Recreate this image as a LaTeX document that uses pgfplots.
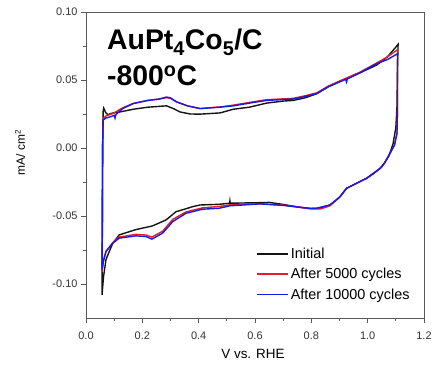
\documentclass[border=0pt]{standalone}
\usepackage{fontspec}
\setmainfont{Liberation Sans}
\usepackage{pgfplots}
\pgfplotsset{compat=1.18}
\definecolor{cvblack}{RGB}{20,20,20}
\definecolor{cvred}{RGB}{225,30,40}
\definecolor{cvblue}{RGB}{25,25,230}
\definecolor{framegray}{RGB}{90,90,90}
\begin{document}
\begin{tikzpicture}
\begin{axis}[
  scale only axis,
  width=338bp, height=306bp,
  xmin=0, xmax=1.2, ymin=-0.125, ymax=0.10,
  xtick={0,0.2,...,1.21}, ytick={-0.10,-0.05,0,0.05,0.10},
  minor x tick num=1, minor y tick num=1,
  xtick pos=left, ytick pos=left,
  tick align=outside,
  major tick length=5bp, minor tick length=3bp,
  axis line style={framegray, line width=0.9pt},
  every tick/.style={framegray, line width=0.8pt},
  /pgf/number format/assume math mode=true,
  xticklabel style={yshift=-5bp, /pgf/number format/.cd, fixed, fixed zerofill, precision=1},
  yticklabel style={/pgf/number format/.cd, fixed, fixed zerofill, precision=2},
  tick label style={font=\fontsize{11}{13}\selectfont, text=black!80},
  scaled y ticks=false,
  xlabel={V vs. RHE},
  ylabel={mA/ cm\textsuperscript{2}},
  xlabel style={at={(axis description cs:0.494,-0.118)}, anchor=center, font=\fontsize{13.5}{15}\selectfont},
  ylabel style={at={(axis description cs:-0.195,0.54)}, anchor=center, font=\fontsize{12}{14}\selectfont},
  legend style={draw=none, fill=none, at={(rel axis cs:0.5,0.24)}, anchor=north west,
    font=\fontsize{14.5}{16}\selectfont, row sep=4.5bp, inner sep=1bp},
  legend cell align=left,
  legend image code/.code={\draw[#1] (0bp,0bp) -- (31bp,0bp);},
]
\addlegendimage{cvblack, line width=1.6pt}
\addlegendentry{Initial}
\addlegendimage{cvred, line width=1.6pt}
\addlegendentry{After 5000 cycles}
\addlegendimage{cvblue, line width=1.6pt}
\addlegendentry{After 10000 cycles}
% Initial
\addplot[cvblack, line width=1.4pt, forget plot] coordinates {
(0.057,-0.108) (0.058,-0.06) (0.059,0.0) (0.060,0.018) (0.061,0.027) (0.063,0.0293)
(0.070,0.026) (0.078,0.0245) (0.09,0.0255) (0.12,0.0265) (0.168,0.0285) (0.22,0.030)
(0.286,0.031) (0.31,0.029) (0.334,0.0265) (0.37,0.025) (0.405,0.0249) (0.476,0.0258)
(0.523,0.0285) (0.58,0.030) (0.641,0.033) (0.70,0.0345) (0.736,0.035) (0.78,0.037)
(0.82,0.040) (0.86,0.045) (0.90,0.049) (0.925,0.051) (0.97,0.055) (1.032,0.061)
(1.07,0.067) (1.095,0.073) (1.108,0.0762)
(1.106,0.06) (1.104,0.03) (1.10,0.015) (1.09,0.003) (1.075,-0.006) (1.05,-0.014)
(1.02,-0.019) (0.996,-0.0223) (0.96,-0.026) (0.925,-0.0296) (0.902,-0.0358)
(0.885,-0.039) (0.866,-0.0419) (0.84,-0.0435) (0.819,-0.0443) (0.795,-0.0443)
(0.76,-0.0436) (0.70,-0.0415) (0.65,-0.0400) (0.618,-0.0402) (0.512,-0.0406)
(0.511,-0.0390) (0.510,-0.0406) (0.473,-0.0414) (0.405,-0.0419) (0.379,-0.0431)
(0.35,-0.045) (0.32,-0.0468) (0.284,-0.0529) (0.236,-0.0573) (0.177,-0.060)
(0.118,-0.0639) (0.095,-0.070) (0.071,-0.082) (0.062,-0.095) (0.057,-0.108)
};
% After 5000 cycles
\addplot[cvred, line width=1.4pt, forget plot] coordinates {
(0.057,-0.091) (0.058,-0.05) (0.059,0.0) (0.061,0.0215) (0.07,0.0235) (0.097,0.0255)
(0.13,0.0295) (0.168,0.0328) (0.22,0.035) (0.26,0.036) (0.286,0.0370) (0.30,0.0365)
(0.322,0.0338) (0.36,0.031) (0.405,0.029) (0.476,0.0302) (0.523,0.0315) (0.58,0.0335)
(0.641,0.0355) (0.736,0.0365) (0.78,0.0385) (0.819,0.0405) (0.86,0.0455) (0.925,0.0515)
(0.97,0.0555) (1.032,0.0625) (1.07,0.067) (1.106,0.0723)
(1.106,0.03) (1.104,0.0107) (1.095,0.002) (1.079,-0.004) (1.06,-0.011) (1.044,-0.015)
(0.996,-0.0223) (0.96,-0.026) (0.925,-0.0296) (0.902,-0.0358) (0.866,-0.0425)
(0.835,-0.0447) (0.819,-0.0448) (0.795,-0.0447) (0.76,-0.0436) (0.70,-0.0420)
(0.618,-0.0410) (0.511,-0.0418) (0.473,-0.0430) (0.414,-0.0440) (0.355,-0.0470)
(0.308,-0.0525) (0.272,-0.0612) (0.234,-0.0655) (0.213,-0.0640) (0.177,-0.0635)
(0.118,-0.0655) (0.095,-0.0695) (0.071,-0.0760) (0.062,-0.083) (0.057,-0.091)
};
% After 10000 cycles
\addplot[cvblue, line width=1.4pt, forget plot] coordinates {
(0.057,-0.0895) (0.058,-0.05) (0.059,0.0) (0.061,0.0205) (0.07,0.022) (0.086,0.0229)
(0.100,0.0240) (0.103,0.0220) (0.106,0.0245) (0.13,0.029) (0.168,0.0327) (0.22,0.035) (0.26,0.036)
(0.286,0.0375) (0.30,0.0368) (0.322,0.0339) (0.36,0.031) (0.405,0.029) (0.476,0.030)
(0.523,0.031) (0.58,0.033) (0.641,0.035) (0.736,0.036) (0.78,0.038) (0.819,0.040)
(0.86,0.045) (0.922,0.0505) (0.925,0.0485) (0.928,0.0508) (0.97,0.055) (1.032,0.062)
(1.07,0.065) (1.106,0.0693)
(1.106,0.03) (1.104,0.0107) (1.095,0.002) (1.079,-0.004) (1.06,-0.011) (1.044,-0.015)
(0.996,-0.0223) (0.96,-0.026) (0.925,-0.0296) (0.902,-0.0358) (0.866,-0.0419)
(0.819,-0.0443) (0.795,-0.0445) (0.76,-0.0436) (0.70,-0.0422) (0.618,-0.0411)
(0.511,-0.0425) (0.473,-0.0443) (0.414,-0.045) (0.355,-0.048) (0.308,-0.0541)
(0.272,-0.0626) (0.234,-0.067) (0.213,-0.0651) (0.177,-0.0646) (0.118,-0.0663)
(0.095,-0.070) (0.071,-0.0761) (0.062,-0.083) (0.057,-0.0895)
};
\node[anchor=base west, font=\fontsize{28.5}{30}\selectfont\bfseries, inner sep=0pt]
  at (rel axis cs:0.062,0.876) {AuPt\textsubscript{4}Co\textsubscript{5}/C};
\node[anchor=base west, font=\fontsize{28.5}{30}\selectfont\bfseries, inner sep=0pt]
  at (rel axis cs:0.062,0.761) {-800\textsuperscript{o}C};
\end{axis}
\pgfresetboundingbox
\path[use as bounding box] (-86bp,-49bp) rectangle (351bp,318bp);
\end{tikzpicture}
\end{document}
